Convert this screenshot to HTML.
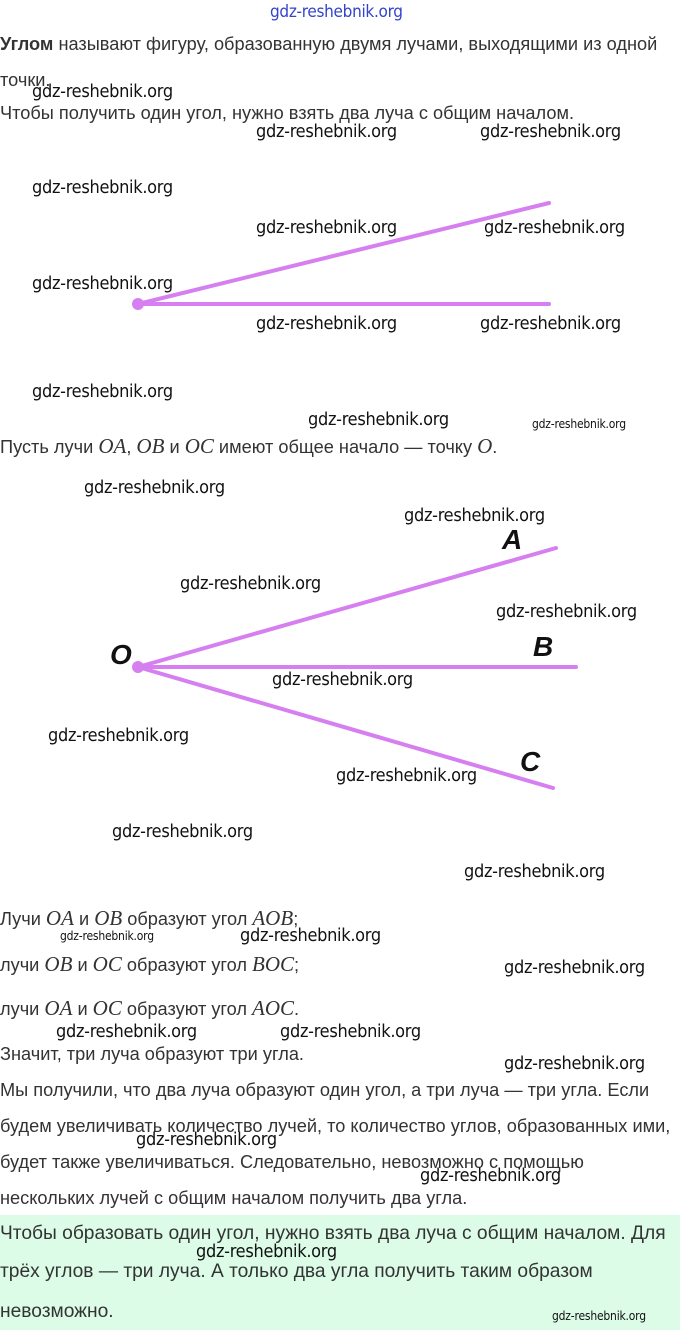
<!DOCTYPE html>
<html><head><meta charset="utf-8"><style>
body{margin:0;width:680px;height:1330px;position:relative;background:#fff;overflow:hidden;font-family:"Liberation Sans","DejaVu Sans",sans-serif;}
.t{position:absolute;left:0;font-size:18.2px;color:#333;white-space:nowrap;line-height:20px;}
.w{position:absolute;font-size:18px;color:#111;white-space:nowrap;line-height:20px;font-family:"DejaVu Sans Condensed","Liberation Sans Narrow","Liberation Sans",sans-serif;letter-spacing:-0.3px;}
.ws{font-size:12px;letter-spacing:-0.2px;}
.m{font-family:"Liberation Serif",serif;font-style:italic;font-size:21px;}
.g{position:absolute;left:0;top:1215px;width:680px;height:115px;background:#dcfce8;}
</style></head><body>
<div class="w" style="left:270px;top:2px;color:#3344cc;font-size:17px">gdz-reshebnik.org</div>
<div class="t" style="top:34px"><b>Углом</b> называют фигуру, образованную двумя лучами, выходящими из одной</div>
<div class="t" style="top:70px">точки.</div>
<div class="w" style="left:32px;top:82px">gdz-reshebnik.org</div>
<div class="t" style="top:103px">Чтобы получить один угол, нужно взять два луча с общим началом.</div>
<div class="w" style="left:256px;top:122px">gdz-reshebnik.org</div>
<div class="w" style="left:480px;top:122px">gdz-reshebnik.org</div>
<div class="w" style="left:32px;top:178px">gdz-reshebnik.org</div>
<div class="w" style="left:256px;top:218px">gdz-reshebnik.org</div>
<div class="w" style="left:484px;top:218px">gdz-reshebnik.org</div>
<div class="w" style="left:32px;top:274px">gdz-reshebnik.org</div>
<div class="w" style="left:256px;top:314px">gdz-reshebnik.org</div>
<div class="w" style="left:480px;top:314px">gdz-reshebnik.org</div>
<div class="w" style="left:32px;top:382px">gdz-reshebnik.org</div>
<div class="w" style="left:308px;top:410px">gdz-reshebnik.org</div>
<div class="w ws" style="left:532px;top:414px">gdz-reshebnik.org</div>
<div class="t" style="top:436px">Пусть лучи <span class="m">OA</span>, <span class="m">OB</span> и <span class="m">OC</span> имеют общее начало — точку <span class="m">O</span>.</div>
<div class="w" style="left:84px;top:478px">gdz-reshebnik.org</div>
<div class="w" style="left:404px;top:506px">gdz-reshebnik.org</div>
<div class="w" style="left:180px;top:574px">gdz-reshebnik.org</div>
<div class="w" style="left:496px;top:602px">gdz-reshebnik.org</div>
<div class="w" style="left:272px;top:670px">gdz-reshebnik.org</div>
<div class="w" style="left:48px;top:726px">gdz-reshebnik.org</div>
<div class="w" style="left:336px;top:766px">gdz-reshebnik.org</div>
<div class="w" style="left:112px;top:822px">gdz-reshebnik.org</div>
<div class="w" style="left:464px;top:862px">gdz-reshebnik.org</div>
<svg style="position:absolute;left:0;top:0" width="680" height="1330">
<g stroke="#d67ff0" stroke-width="4" stroke-linecap="round" fill="none">
<line x1="138" y1="304" x2="549" y2="203"/>
<line x1="138" y1="304" x2="549" y2="304"/>
<line x1="138" y1="667" x2="556" y2="548"/>
<line x1="138" y1="667" x2="576" y2="667"/>
<line x1="138" y1="667" x2="553" y2="788"/>
</g>
<circle cx="138" cy="304" r="6" fill="#d67ff0"/>
<circle cx="138" cy="667" r="6" fill="#d67ff0"/>
<g font-family="Liberation Sans Narrow,Liberation Sans,sans-serif" font-weight="bold" font-style="italic" font-size="28" fill="#111">
<text x="110" y="664">O</text>
<text x="502" y="549">A</text>
<text x="533" y="656">B</text>
<text x="520" y="771">C</text>
</g>
</svg>
<div class="t" style="top:908px">Лучи <span class="m">OA</span> и <span class="m">OB</span> образуют угол <span class="m">AOB</span>;</div>
<div class="w ws" style="left:60px;top:926px">gdz-reshebnik.org</div>
<div class="w" style="left:240px;top:926px">gdz-reshebnik.org</div>
<div class="t" style="top:954px">лучи <span class="m">OB</span> и <span class="m">OC</span> образуют угол <span class="m">BOC</span>;</div>
<div class="w" style="left:504px;top:958px">gdz-reshebnik.org</div>
<div class="t" style="top:998px">лучи <span class="m">OA</span> и <span class="m">OC</span> образуют угол <span class="m">AOC</span>.</div>
<div class="w" style="left:56px;top:1022px">gdz-reshebnik.org</div>
<div class="w" style="left:280px;top:1022px">gdz-reshebnik.org</div>
<div class="t" style="top:1044px">Значит, три луча образуют три угла.</div>
<div class="w" style="left:504px;top:1054px">gdz-reshebnik.org</div>
<div class="t" style="top:1080px">Мы получили, что два луча образуют один угол, а три луча — три угла. Если</div>
<div class="t" style="top:1116px">будем увеличивать количество лучей, то количество углов, образованных ими,</div>
<div class="w" style="left:136px;top:1130px">gdz-reshebnik.org</div>
<div class="t" style="top:1152px">будет также увеличиваться. Следовательно, невозможно с помощью</div>
<div class="w" style="left:420px;top:1166px">gdz-reshebnik.org</div>
<div class="t" style="top:1188px">нескольких лучей с общим началом получить два угла.</div>
<div class="g"></div>
<div class="t" style="top:1224px;font-size:19.2px">Чтобы образовать один угол, нужно взять два луча с общим началом. Для</div>
<div class="w" style="left:196px;top:1242px">gdz-reshebnik.org</div>
<div class="t" style="top:1262px;font-size:19.2px">трёх углов — три луча. А только два угла получить таким образом</div>
<div class="w ws" style="left:552px;top:1306px">gdz-reshebnik.org</div>
<div class="t" style="top:1302px;font-size:19.2px">невозможно.</div>
</body></html>
